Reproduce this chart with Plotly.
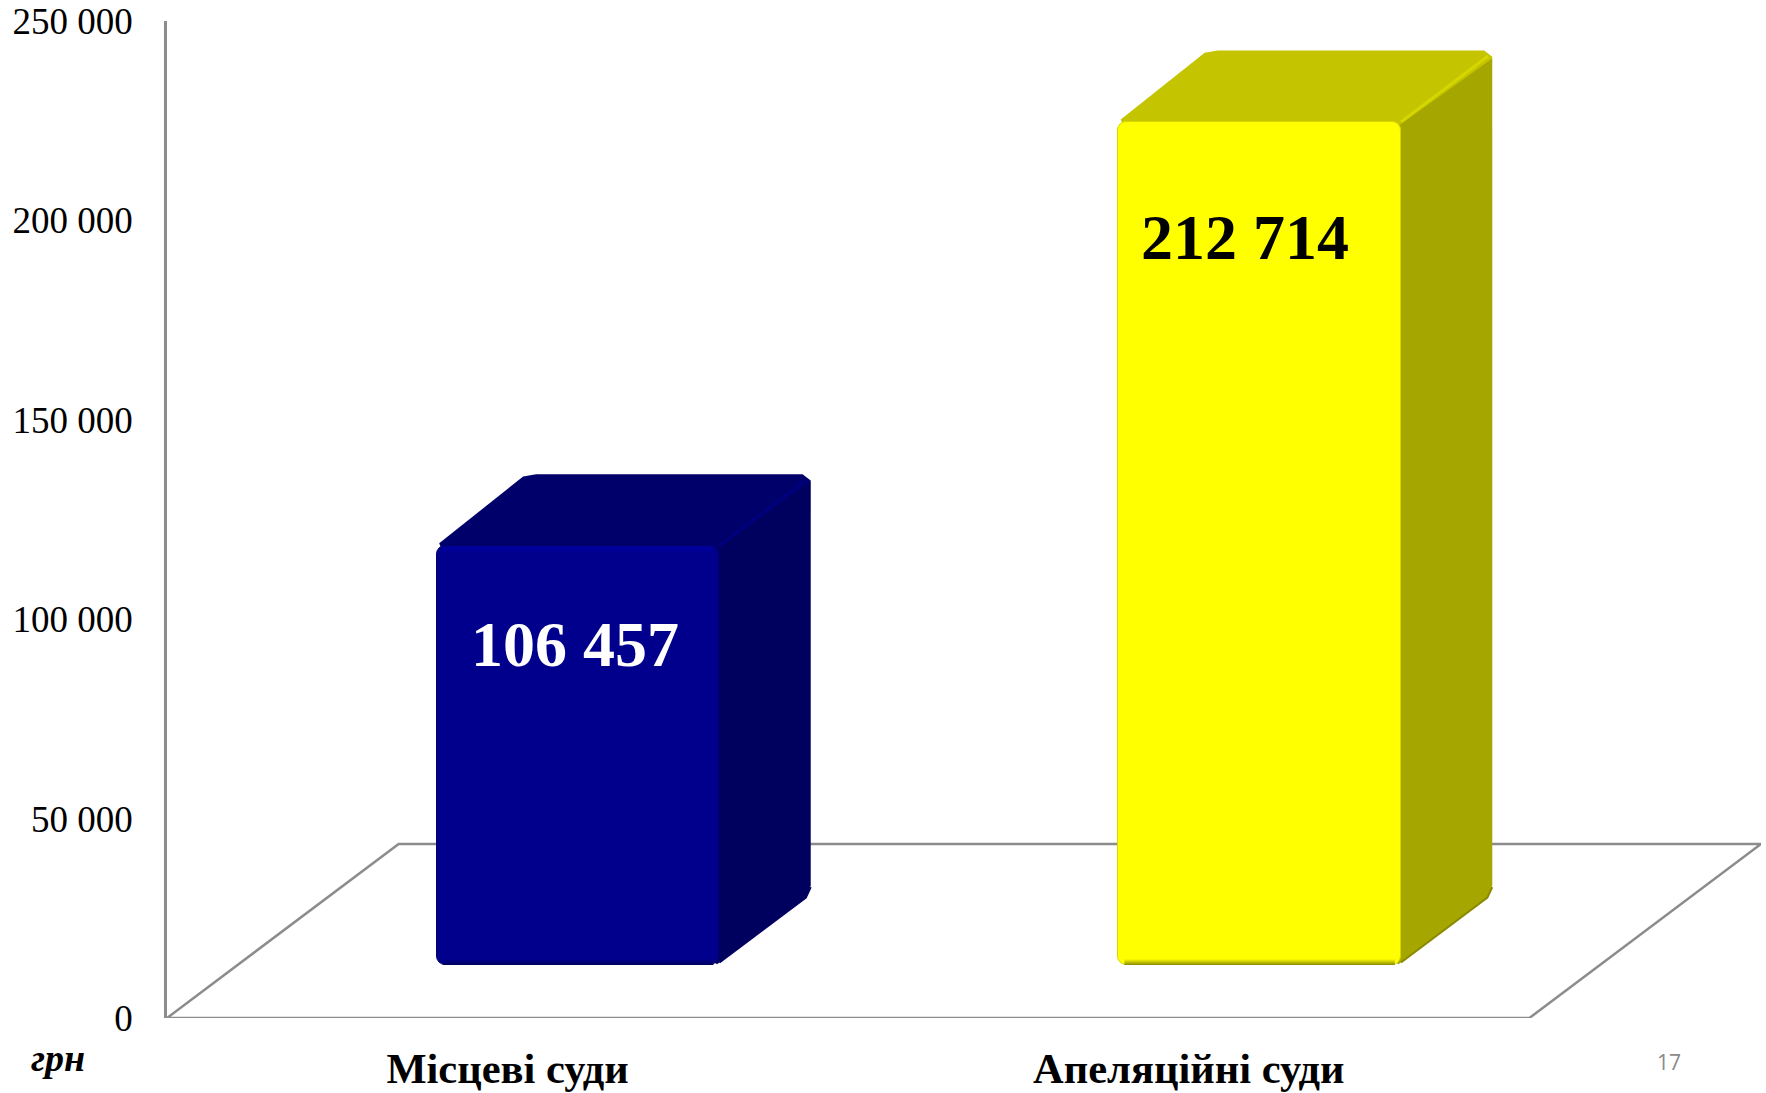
import plotly.graph_objects as go

categories = ["Місцеві суди", "Апеляційні суди"]
values = [106457, 212714]
value_labels = ["106 457", "212 714"]
label_y = [93600, 195600]
label_x = [0.5995, 1.582]
tick_values = [0, 50000, 100000, 150000, 200000, 250000]
tick_labels = ["0", "50 000", "100 000", "150 000", "200 000", "250 000"]
front_colors = ["#00008C", "#FFFF00"]
side_colors = ["#00005F", "#A6A600"]
top_colors = ["#00006A", "#C4C400"]
ridge_colors = ["#00007E", "#D6D600"]
edge_colors = ["#00006E", "#D8D800"]
shade_colors = ["#000060", "#8A8A00"]
light_colors = ["#0000A0", "#FFFF00"]
bar_centers = [0.6035, 1.604]
bar_width = 0.415
bar_base = 13300
top_trim = 1300
depth_x = 0.134
depth_y = 17900
floor_x = 0.34
floor_y = 43650
x_max = 2.34
cx, cy = 0.012, 2000
grey = "#8C8C8C"
serif = "Liberation Serif"

fig = go.Figure()

# side and top faces, behind the front faces
for i, v in enumerate(values):
    l = bar_centers[i] - bar_width / 2
    r = bar_centers[i] + bar_width / 2
    t = bar_base + v - top_trim
    side_x = [r - 0.02, r, r + depth_x - cx * .8, r + depth_x, r + depth_x, r + depth_x - cx * .6,
              r - cx * .3, r - 0.02]
    side_y = [t - 3000, t, t + depth_y - cy * .8, t + depth_y - cy, bar_base + depth_y + cy,
              bar_base + depth_y - cy * .6, bar_base + cy * .1, bar_base + cy]
    fig.add_trace(go.Scatter(x=side_x, y=side_y, fill="toself", fillcolor=side_colors[i], mode="lines",
                             line=dict(width=0), hoverinfo="skip", showlegend=False))
    # darker rim along the lower edge of the side face
    fig.add_trace(go.Scatter(x=[r, r + depth_x - cx * .6, r + depth_x],
                             y=[bar_base + cy * .3, bar_base + depth_y - cy * .5, bar_base + depth_y + cy * .8],
                             mode="lines", line=dict(color=shade_colors[i], width=2),
                             hoverinfo="skip", showlegend=False))
    top_x = [l + cx * .3, l + depth_x - cx * .6, l + depth_x + cx, r + depth_x - cx, r + depth_x,
             r + depth_x, r - 0.02, l + cx]
    top_y = [t + cy * .3, t + depth_y - cy * .3, t + depth_y, t + depth_y, t + depth_y - cy * .8,
             t + depth_y - cy, t - 3000, t - 3000]
    fig.add_trace(go.Scatter(x=top_x, y=top_y, fill="toself", fillcolor=top_colors[i], mode="lines",
                             line=dict(width=0), hoverinfo="skip", showlegend=False))
    fig.add_trace(go.Scatter(x=[r, r + depth_x - cx * .5], y=[t, t + depth_y - cy * .7], mode="lines",
                             line=dict(color=ridge_colors[i], width=3), hoverinfo="skip", showlegend=False))

# front faces
fig.add_trace(go.Bar(
    x=bar_centers, y=[v - top_trim for v in values], base=[bar_base] * 2, width=bar_width,
    marker=dict(color=front_colors, cornerradius=9, line=dict(color=edge_colors, width=1)),
    xaxis="x2", yaxis="y2", hoverinfo="skip", showlegend=False,
))

# soft bevels on the front faces
for i, v in enumerate(values):
    l = bar_centers[i] - bar_width / 2
    r = bar_centers[i] + bar_width / 2
    t = bar_base + v - top_trim
    inset = 0.009
    h = 1500
    fig.add_trace(go.Scatter(
        x=[l + inset, r - inset, r - inset, l + inset, l + inset],
        y=[bar_base, bar_base, bar_base + h, bar_base + h, bar_base],
        fill="toself", mode="lines", line=dict(width=0), xaxis="x2", yaxis="y2",
        fillgradient=dict(type="vertical", colorscale=[[0, shade_colors[i]], [1, front_colors[i]]]),
        hoverinfo="skip", showlegend=False))
    fig.add_trace(go.Scatter(
        x=[l + inset, r - inset, r - inset, l + inset, l + inset],
        y=[t - 2000, t - 2000, t - 300, t - 300, t - 2000],
        fill="toself", mode="lines", line=dict(width=0), xaxis="x2", yaxis="y2",
        fillgradient=dict(type="vertical", colorscale=[[0, front_colors[i]], [1, light_colors[i]]]),
        hoverinfo="skip", showlegend=False))

floor = (f"M 0 0 L {floor_x} {floor_y} L {2 + floor_x} {floor_y} L 2 0 Z")
fig.update_layout(
    width=1766, height=1093,
    margin=dict(l=167, r=5, t=21, b=75, autoexpand=False),
    paper_bgcolor="white", plot_bgcolor="white",
    bargap=0, barmode="overlay",
    shapes=[dict(type="path", path=floor, xref="x", yref="y", layer="below",
                 line=dict(color=grey, width=2.5))],
    xaxis=dict(range=[0, x_max], tickmode="array", tickvals=[0.5, 1.5], ticktext=categories,
               tickfont=dict(family=serif, size=42.5, color="black", weight="bold"),
               showgrid=False, zeroline=False, showline=False, ticks="", ticklabelstandoff=21),
    yaxis=dict(range=[0, 250000], tickmode="array", tickvals=tick_values, ticktext=tick_labels,
               tickfont=dict(family=serif, size=37, color="black"),
               showgrid=False, zeroline=False, showline=True, linecolor=grey, linewidth=2.5,
               ticks="", ticklabelstandoff=24),
    xaxis2=dict(range=[0, x_max], overlaying="x", visible=False),
    yaxis2=dict(range=[0, 250000], overlaying="y", visible=False),
)

for i, text in enumerate(value_labels):
    fig.add_annotation(x=label_x[i], y=label_y[i], xref="x2", yref="y2", text=f"<b>{text}</b>",
                       showarrow=False, font=dict(family=serif, size=64,
                                                  color="white" if i == 0 else "black"))

fig.add_annotation(xref="paper", yref="paper", x=(58 - 167) / 1594, y=(1018 - 1058) / 997,
                   xanchor="center", yanchor="middle",
                   text="<b><i>грн</i></b>", showarrow=False, font=dict(family=serif, size=38, color="black"))
fig.add_annotation(xref="paper", yref="paper", x=(1669 - 167) / 1594, y=(1018 - 1062) / 997,
                   xanchor="center", yanchor="middle",
                   text="17", showarrow=False, font=dict(family="Open Sans", size=21, color="#8A8A8A"))

fig.write_html("out.html", config=dict(displayModeBar=False),
               post_script="document.body.style.margin='0';document.documentElement.style.overflow='hidden';")
